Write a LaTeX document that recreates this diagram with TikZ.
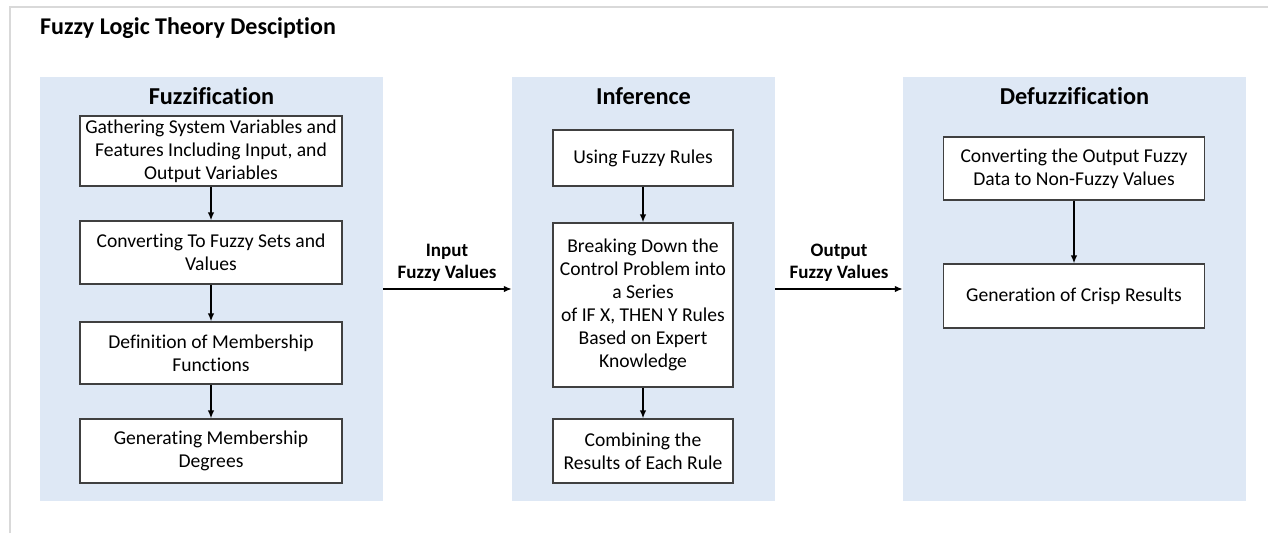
\documentclass[tikz,border=0pt]{standalone}
\usepackage{fontspec}
\setmainfont{Carlito}[Ligatures=NoCommon]
\usetikzlibrary{arrows.meta}
\definecolor{panelblue}{RGB}{222,232,245}
\definecolor{framegray}{RGB}{217,217,217}
\definecolor{boxline}{RGB}{64,64,64}
\begin{document}
\begin{tikzpicture}[x=1pt,y=-1pt,
  panel/.style={rectangle,fill=panelblue,draw=none,inner sep=0pt},
  ptitle/.style={font=\fontsize{24.3}{28}\selectfont\bfseries},
  stepbox/.style={rectangle,draw=boxline,line width=1.2pt,fill=white,
    align=center,inner sep=2pt,font=\fontsize{19.6}{23}\selectfont},
  flow/.style={line width=1.5pt,-{Latex[length=8pt,width=6.5pt]}},
  flowlabel/.style={align=center,font=\fontsize{19}{22}\selectfont\bfseries}
]
\useasboundingbox (0,0) rectangle (1268,533);
% outer frame, top and left edges
\draw[framegray,line width=2pt] (10,533) -- (10,7) -- (1268,7);
\node[anchor=west,inner sep=0pt,font=\fontsize{24}{28}\selectfont\bfseries] (title) at (40,28) {Fuzzy Logic Theory Desciption};

% three stage panels
\node[panel,minimum width=343pt,minimum height=424pt] (fuz) at (211.5,289) {};
\node[panel,minimum width=263pt,minimum height=424pt] (inf) at (643.5,289) {};
\node[panel,minimum width=343pt,minimum height=424pt] (def) at (1074.5,289) {};
\node[ptitle] (fuzt) at (211.5,96) {Fuzzification};
\node[ptitle] (inft) at (643.5,96) {Inference};
\node[ptitle] (deft) at (1074.5,96) {Defuzzification};

% fuzzification steps
\node[stepbox,minimum width=262pt,minimum height=70pt] (f1) at (211,151)
  {Gathering System Variables and\\Features Including Input, and\\Output Variables};
\node[stepbox,minimum width=262pt,minimum height=63pt] (f2) at (211,252.5)
  {Converting To Fuzzy Sets and\\Values};
\node[stepbox,minimum width=262pt,minimum height=62pt] (f3) at (211,353)
  {Definition of Membership\\Functions};
\node[stepbox,minimum width=262pt,minimum height=64pt] (f4) at (211,451)
  {Generating Membership\\Degrees};

% inference steps
\node[stepbox,minimum width=180pt,minimum height=56pt] (i1) at (643,158)
  {Using Fuzzy Rules};
\node[stepbox,minimum width=180pt,minimum height=164pt] (i2) at (643,305)
  {Breaking Down the\\Control Problem into\\a Series\\of IF X, THEN Y Rules\\Based on Expert\\Knowledge};
\node[stepbox,minimum width=180pt,minimum height=64pt] (i3) at (643,451)
  {Combining the\\Results of Each Rule};

% defuzzification steps
\node[stepbox,minimum width=261pt,minimum height=63pt] (d1) at (1074,168.5)
  {Converting the Output Fuzzy\\Data to Non-Fuzzy Values};
\node[stepbox,minimum width=261pt,minimum height=64pt] (d2) at (1074,296)
  {Generation of Crisp Results};

% connectors inside panels
\draw[flow] (f1) -- (f2);
\draw[flow] (f2) -- (f3);
\draw[flow] (f3) -- (f4);
\draw[flow] (i1) -- (i2);
\draw[flow] (i2) -- (i3);
\draw[flow] (d1) -- (d2);

% connectors between panels
\draw[flow] (fuz.east) -- (inf.west);
\draw[flow] (inf.east) -- (def.west);
\node[flowlabel] (inlab) at (447,263) {Input\\Fuzzy Values};
\node[flowlabel] (outlab) at (839,263) {Output\\Fuzzy Values};
\end{tikzpicture}
\end{document}
